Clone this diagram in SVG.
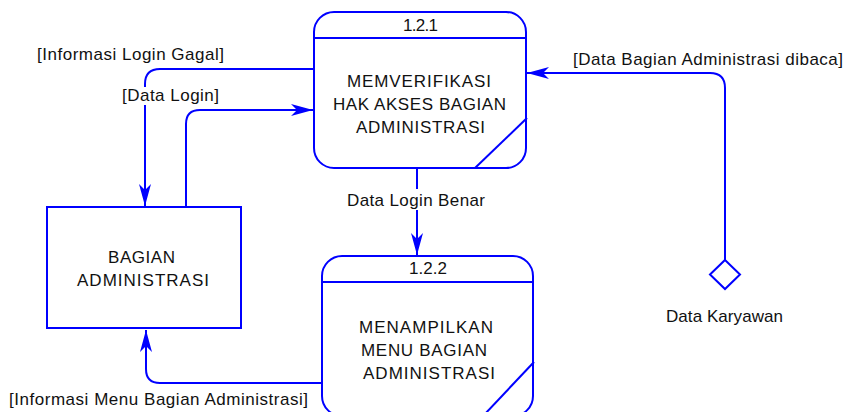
<svg xmlns="http://www.w3.org/2000/svg" width="845" height="412" viewBox="0 0 845 412">
<style>
.shape{fill:#fff;stroke:#0000ff;stroke-width:2}
.ln{fill:none;stroke:#0000ff;stroke-width:2}
.flow{fill:none;stroke:#0000ff;stroke-width:2;marker-end:url(#arr)}
text{font-family:"Liberation Sans",Arial,sans-serif;font-size:17px;fill:#111}
.bg{fill:#fff}
</style>
<defs>
<marker id="arr" markerUnits="userSpaceOnUse" markerWidth="30" markerHeight="20" refX="0" refY="0" orient="auto" overflow="visible">
<path d="M0,0 L-22,-6 L-16,0 L-22,6 Z" fill="#0000ff"/>
</marker>
</defs>
<rect width="845" height="412" fill="#fff"/>
<g id="connectors">
<path class="flow" d="M314,69 H160 Q145,69 145,84 V206"/>
<path class="flow" d="M186,207 V124 Q186,110 200,110 H313"/>
<path class="flow" d="M417,168 V255"/>
<path class="flow" d="M322,383 H160 Q146,383 146,369 V330"/>
<path class="flow" d="M725,260 V88 Q725,73 710,73 H527"/>
<rect class="bg" x="121" y="87" width="100" height="18"/>
<rect class="bg" x="345" y="189" width="142" height="21"/>
<text x="37" y="60" textLength="187" lengthAdjust="spacing">[Informasi Login Gagal]</text>
<text x="122" y="101" textLength="97" lengthAdjust="spacing">[Data Login]</text>
<text x="347" y="206" textLength="138" lengthAdjust="spacing">Data Login Benar</text>
<text x="573" y="65" textLength="270" lengthAdjust="spacing">[Data Bagian Administrasi dibaca]</text>
<text x="9" y="405" textLength="299" lengthAdjust="spacing">[Informasi Menu Bagian Administrasi]</text>
</g>
<g id="p121">
<rect class="shape" x="314" y="12" width="212" height="156" rx="20"/>
<line class="ln" x1="314" y1="38" x2="526" y2="38"/>
<line class="ln" x1="527" y1="118" x2="475" y2="168"/>
<text x="403" y="31" textLength="35" lengthAdjust="spacing">1.2.1</text>
<text x="347" y="87" textLength="144" lengthAdjust="spacing">MEMVERIFIKASI</text>
<text x="333" y="110" textLength="173" lengthAdjust="spacing">HAK AKSES BAGIAN</text>
<text x="356" y="133" textLength="129" lengthAdjust="spacing">ADMINISTRASI</text>
</g>
<g id="p122">
<rect class="shape" x="322" y="256" width="211" height="160" rx="20"/>
<line class="ln" x1="322" y1="282" x2="533" y2="282"/>
<line class="ln" x1="534" y1="362" x2="484" y2="415"/>
<text x="409" y="274" textLength="38" lengthAdjust="spacing">1.2.2</text>
<text x="359" y="333" textLength="134" lengthAdjust="spacing">MENAMPILKAN</text>
<text x="361" y="356" textLength="126" lengthAdjust="spacing">MENU BAGIAN</text>
<text x="363" y="379" textLength="132" lengthAdjust="spacing">ADMINISTRASI</text>
</g>
<g id="bagian">
<rect class="shape" x="47" y="207" width="194" height="121"/>
<text x="108" y="263" textLength="67" lengthAdjust="spacing">BAGIAN</text>
<text x="77" y="286" textLength="132" lengthAdjust="spacing">ADMINISTRASI</text>
</g>
<g id="karyawan">
<polygon class="shape" points="725,260 740,274.5 725,289 710,274.5"/>
<text x="666" y="322" textLength="117" lengthAdjust="spacing">Data Karyawan</text>
</g>
</svg>
